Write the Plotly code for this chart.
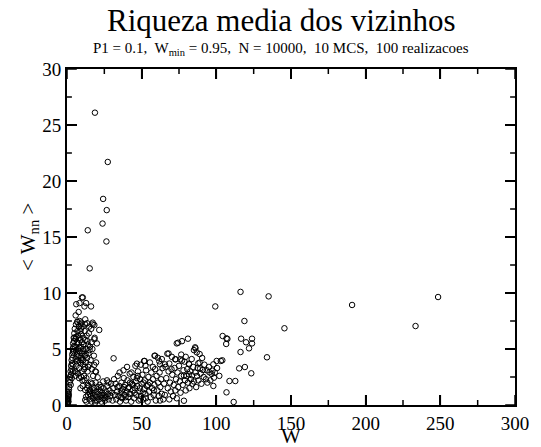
import plotly.graph_objects as go

# ---- data: (W, <W_nn>) ----
outlier_w   = [18.7, 27.3, 24.2, 26.6, 23.8, 13.9, 26.4, 15.2, 10.0]
outlier_wnn = [26.1, 21.7, 18.4, 17.4, 16.2, 15.6, 14.6, 12.2, 9.6]

right_w   = [116.2, 135.0, 99.3, 118.8, 145.6, 190.9, 233.4, 248.5, 133.9, 104.2, 106.8, 107.4, 106.6,
             116.6, 119.9, 123.9, 123.9, 121.9, 116.2, 115.3, 119.1, 123.4, 112.7, 108.8, 106.8, 111.6]
right_wnn = [10.1, 9.7, 8.8, 7.5, 6.85, 8.93, 7.05, 9.64, 4.26, 6.16, 5.95, 5.9, 5.45,
             5.92, 5.6, 5.92, 5.5, 5.06, 4.73, 3.27, 3.39, 2.83, 2.14, 2.14, 1.13, 0.27]

mid_w   = [81.0, 77.0, 74.4, 73.5, 86.0, 85.8, 88.8, 86.9, 88.8, 81.6, 77.0, 100.2, 103.0, 104.0, 98.0,
           95.4, 96.9, 98.4, 97.4, 98.0, 89.2, 91.0, 93.6, 87.1, 83.8, 81.6, 80.0, 78.3, 78.3, 68.0,
           67.2, 72.8, 75.9, 78.7, 81.8, 62.3, 65.6, 87.9, 59.0, 60.8, 58.6, 46.8, 51.6, 52.0, 31.2, 72.4]
mid_wnn = [5.92, 5.7, 5.56, 5.5, 5.06, 5.15, 4.55, 4.7, 3.78, 3.69, 3.96, 3.93, 3.93, 3.99, 3.63,
           2.92, 2.77, 2.44, 3.06, 1.7, 3.27, 3.13, 3.1, 2.59, 2.65, 2.74, 2.59, 2.62, 0.38, 4.6,
           4.58, 4.08, 4.08, 3.87, 3.63, 3.63, 3.63, 3.72, 4.4, 4.22, 4.4, 3.69, 3.93, 3.93, 4.17, 4.08]

base_w   = [0.3, 0.4, 0.5, 0.6, 0.7, 0.8, 0.9, 1.0, 1.1, 1.2, 0.5, 1.3, 1.0, 0.2, 0.6, 1.5, 1.8, 2.0,
            2.2, 2.4, 2.6, 2.8, 3.0, 3.1, 3.3, 3.5, 3.6, 3.8, 4.0, 4.1, 4.3, 4.5, 4.7, 4.9, 5.0, 3.2,
            2.5, 4.2, 3.9]
base_wnn = [0.2, 0.4, 0.6, 0.3, 0.8, 0.5, 1.0, 0.7, 1.2, 0.9, 0.1, 1.4, 0.3, 0.5, 1.1, 1.6, 2.0, 2.5,
            2.2, 3.0, 2.7, 3.5, 3.2, 4.0, 3.7, 4.5, 4.2, 5.0, 4.7, 5.5, 5.2, 6.0, 5.7, 6.4, 6.0, 2.4,
            1.8, 3.6, 3.0]

peak_w   = [5.2, 5.5, 5.8, 6.0, 6.2, 6.4, 6.6, 6.8, 7.0, 5.3, 5.7, 6.1, 6.9, 7.2, 6.3,
            7.4, 7.6, 7.8, 8.0, 8.2, 8.4, 8.6, 8.8, 7.5, 8.1, 8.9, 7.9, 8.5, 9.0,
            9.2, 9.4, 9.6, 9.8, 10.0, 10.2, 10.4, 10.6, 10.8, 9.5, 10.3, 11.0, 9.1, 10.9,
            11.2, 11.5, 11.8, 12.0, 12.3, 12.6, 12.9, 13.2, 13.5, 13.8, 11.4, 12.2, 13.0, 14.0,
            14.3, 14.6, 15.0, 15.4, 15.8, 16.2, 16.6, 17.0, 17.5, 18.0, 18.5, 19.0, 19.5, 20.0, 17.2, 14.8,
            6.2, 8.4, 10.6, 12.8, 16.1, 11.7, 6.9, 9.5, 12.2, 13.5, 17.2, 18.3, 21.6, 18.3, 7.8, 5.8,
            18.3, 19.4, 20.5, 11.7, 13.9, 12.2, 12.8, 12.2, 10.5, 14.5, 16.0, 9.0,
            4.6, 5.9, 7.1, 8.3, 9.7, 11.1, 12.5, 13.7, 15.1, 16.4, 6.5, 9.3, 11.9, 14.2]
peak_wnn = [6.8, 5.2, 4.1, 7.2, 6.1, 3.5, 5.6, 4.6, 6.6, 3.0, 2.6, 4.9, 7.4, 5.0, 2.9,
            6.2, 4.0, 5.5, 7.0, 3.3, 6.0, 4.8, 5.8, 2.8, 2.4, 3.8, 4.4, 7.5, 6.6,
            5.2, 4.2, 6.3, 3.0, 5.6, 4.6, 7.0, 3.6, 5.0, 2.5, 2.2, 6.0, 7.2, 4.0,
            5.4, 3.2, 6.6, 4.4, 5.8, 3.8, 5.0, 6.2, 4.2, 3.0, 2.6, 7.2, 2.4, 5.4,
            4.6, 6.4, 3.6, 5.2, 4.0, 6.8, 3.2, 5.0, 2.6, 4.4, 6.0, 3.0, 3.8, 5.5, 7.2, 7.0,
            9.0, 9.1, 9.6, 9.1, 8.8, 8.8, 7.44, 7.35, 7.65, 7.3, 7.35, 7.14, 6.7, 5.87, 8.3, 8.0,
            3.57, 2.97, 2.47, 2.23, 1.79, 1.34, 0.74, 0.45, 1.7, 1.2, 2.0, 1.5,
            4.8, 5.9, 4.3, 5.1, 4.0, 4.8, 4.5, 5.7, 4.9, 5.6, 3.9, 6.8, 3.4, 3.4]

band_w   = [13.0, 14.0, 15.0, 15.5, 16.0, 16.5, 17.0, 17.5, 18.0, 18.5, 19.0, 19.5, 20.0, 20.5, 21.0,
            21.5, 22.0, 22.5, 23.0, 23.5, 24.0, 24.5, 25.0, 25.5, 26.0, 26.5, 27.0, 27.5, 28.0, 28.5,
            29.0, 29.5, 30.0, 14.5, 16.8, 19.2, 21.8, 24.2, 26.8, 13.5,
            15.3, 17.8, 20.3, 22.8, 25.3, 27.8, 18.8, 23.3]
band_wnn = [0.3, 0.9, 0.5, 1.3, 0.8, 0.3, 1.1, 0.6, 1.5, 0.9, 0.4, 1.2, 0.7, 1.6, 1.0,
            0.5, 1.3, 0.8, 0.3, 1.1, 0.6, 1.5, 0.9, 0.4, 1.2, 0.7, 1.7, 1.0, 0.5, 1.3,
            0.8, 1.9, 1.1, 1.7, 1.9, 2.0, 1.8, 2.1, 2.2, 1.5,
            1.0, 1.3, 0.4, 1.6, 0.6, 2.0, 0.2, 0.9]

dense_w   = [30.5, 31, 31.5, 32, 32.5, 33, 33.5, 34, 34.5, 35, 35.5, 36, 36.5, 37, 37.5, 38, 38.5, 39,
             39.5, 40, 40.5, 41, 41.5, 42, 42.5, 43, 43.5, 44, 44.5, 45, 45.5, 46, 46.5, 47, 47.5, 48,
             48.5, 49, 49.5, 50, 50.5, 51, 51.5, 52, 52.5, 53, 53.5, 54, 54.5, 55, 55.5, 56, 56.5, 57,
             57.5, 58, 58.5, 59, 59.5, 60, 60.5, 61, 61.5, 62, 62.5, 63, 63.5, 64, 64.5, 65,
             35.2, 37.8, 40.2, 43.2, 45.8, 36.8, 39.2, 41.8, 44.2, 46.8, 48.8, 50.8, 52.8, 38.2, 42.2,
             55.5, 57.5, 61.8, 63.5, 66.0, 68.5, 70.0, 52.5, 49.5,
             33.8, 36.3, 40.8, 45.3, 49.2, 54.3, 58.2, 62.3, 47.4, 51.2]
dense_wnn = [0.4, 1.5, 2.3, 0.9, 1.9, 0.5, 1.2, 2.6, 0.8, 1.7, 0.3, 1.1, 2.0, 0.6, 1.4, 2.4, 0.9, 1.8,
             0.4, 1.2, 2.2, 0.7, 1.6, 2.8, 1.0, 0.3, 1.9, 1.3, 2.5, 0.6, 1.5, 2.1, 0.9, 1.7, 3.0, 0.4,
             1.2, 2.3, 0.8, 1.9, 2.7, 0.5, 1.4, 2.2, 1.0, 3.1, 1.7, 0.3, 2.5, 1.2, 2.0, 0.7, 2.9, 1.5,
             2.3, 0.9, 1.8, 3.2, 0.4, 2.6, 1.3, 2.0, 0.8, 2.9, 1.6, 2.3, 1.0, 3.3, 0.5, 1.9,
             2.9, 3.1, 3.4, 2.9, 3.5, 1.3, 0.7, 1.0, 1.8, 2.4, 1.5, 1.1, 0.6, 1.6, 2.0,
             3.8, 3.4, 3.9, 4.1, 3.4, 3.7, 3.2, 3.5, 3.6,
             1.6, 0.7, 1.5, 1.1, 0.5, 1.8, 1.3, 0.4, 2.6, 2.0]

tail_w   = [65.5, 66.5, 67.5, 68.0, 68.5, 69.0, 69.5, 70.5, 71.0, 71.5, 72.0, 72.5, 73.0, 73.5, 74.0,
            74.5, 75.0, 75.5, 76.0, 76.5, 77.5, 78.0, 79.0, 79.5, 80.5, 81.0, 82.0, 82.5, 83.0, 84.0,
            84.5, 85.0, 86.0, 86.5, 87.5, 88.0, 89.5, 90.0, 91.5, 92.0, 93.0, 94.0, 95.0, 96.0, 99.0,
            100.5, 102.0, 76.5, 79.5, 83.5, 85.0, 90.5, 70.2]
tail_wnn = [0.9, 2.4, 1.5, 3.0, 0.5, 2.0, 1.2, 2.7, 0.8, 1.8, 3.3, 1.3, 2.3, 0.6, 2.9,
            1.6, 3.5, 2.1, 1.1, 2.6, 1.8, 3.1, 2.2, 1.3, 3.2, 2.0, 1.5, 3.0, 2.3, 1.9,
            3.4, 2.1, 2.9, 1.6, 3.3, 2.2, 2.8, 1.9, 2.5, 3.6, 2.3, 2.0, 3.4, 2.2, 2.9,
            3.3, 2.6, 4.5, 4.3, 4.1, 4.9, 4.2, 4.3]

x_ticks = [0, 50, 100, 150, 200, 250, 300]
y_ticks = [0, 5, 10, 15, 20, 25, 30]
x_minor = [25, 75, 125, 175, 225, 275]
y_minor = [2.5, 7.5, 12.5, 17.5, 22.5, 27.5]

W = outlier_w + right_w + mid_w + base_w + peak_w + band_w + dense_w + tail_w
WNN = outlier_wnn + right_wnn + mid_wnn + base_wnn + peak_wnn + band_wnn + dense_wnn + tail_wnn

SERIF = "Liberation Serif"
PLOT_W, PLOT_H = 541 - 67 - 17, 447 - 69 - 42  # plot area in px (for tick lengths)
MAJ, MIN = 10, 5

fig = go.Figure()
fig.add_trace(go.Scatter(
    x=W, y=WNN, mode="markers",
    marker=dict(symbol="circle-open", size=5.5, color="black", line=dict(width=1, color="black")),
    showlegend=False,
))

# tick marks on all four sides, placed through the axes' own scales
tick_line = dict(color="black", width=1.5)
shapes = []
for vals, ln in ((x_ticks, MAJ), (x_minor, MIN)):
    for v in vals:
        shapes.append(dict(type="line", xref="x", yref="paper", x0=v, x1=v, y0=0, y1=ln / PLOT_H,
                           line=tick_line, layer="above"))
        shapes.append(dict(type="line", xref="x", yref="paper", x0=v, x1=v, y0=1, y1=1 - ln / PLOT_H,
                           line=tick_line, layer="above"))
for vals, ln in ((y_ticks, MAJ), (y_minor, MIN)):
    for v in vals:
        shapes.append(dict(type="line", xref="paper", yref="y", y0=v, y1=v, x0=0, x1=ln / PLOT_W,
                           line=tick_line, layer="above"))
        shapes.append(dict(type="line", xref="paper", yref="y", y0=v, y1=v, x0=1, x1=1 - ln / PLOT_W,
                           line=tick_line, layer="above"))

fig.update_layout(
    width=541, height=447,
    margin=dict(l=67, r=17, t=69, b=42),
    paper_bgcolor="white", plot_bgcolor="white",
    font=dict(family=SERIF, color="black"),
    xaxis=dict(
        range=[0, 300], tickmode="array", tickvals=x_ticks,
        showline=True, linewidth=2, linecolor="black", mirror="ticks",
        ticks="inside", ticklen=MAJ, tickwidth=1.5, tickcolor="black",
        showgrid=False, zeroline=False,
        tickfont=dict(family=SERIF, size=19, color="black"),
    ),
    yaxis=dict(
        range=[0, 30], tickmode="array", tickvals=y_ticks,
        showline=True, linewidth=2, linecolor="black", mirror="ticks",
        ticks="inside", ticklen=MAJ, tickwidth=1.5, tickcolor="black",
        showgrid=False, zeroline=False,
        tickfont=dict(family=SERIF, size=19, color="black"),
    ),
    shapes=shapes,
    annotations=[
        dict(text="Riqueza media dos vizinhos", xref="paper", yref="paper", x=0.4786, y=1.0,
             xanchor="center", yanchor="bottom", yshift=29, showarrow=False,
             font=dict(family=SERIF, size=31, color="black")),
        dict(text="P1 = 0.1,  W<sub>min</sub> = 0.95,  N = 10000,  10 MCS,  100 realizacoes",
             xref="paper", yref="paper", x=0.4786, y=1.0, xanchor="center", yanchor="bottom",
             yshift=9, showarrow=False, font=dict(family=SERIF, size=15, color="black")),
        dict(text="W", xref="paper", yref="paper", x=0.5, y=0, xanchor="center", yanchor="top",
             yshift=-17, showarrow=False, font=dict(family=SERIF, size=21, color="black")),
        dict(text="&lt; W<sub>nn</sub> &gt;", xref="paper", yref="paper", x=0, y=0.5,
             xanchor="center", yanchor="middle", xshift=-38, textangle=-90, showarrow=False,
             font=dict(family=SERIF, size=21, color="black")),
    ],
)

fig.write_html("out.html")
